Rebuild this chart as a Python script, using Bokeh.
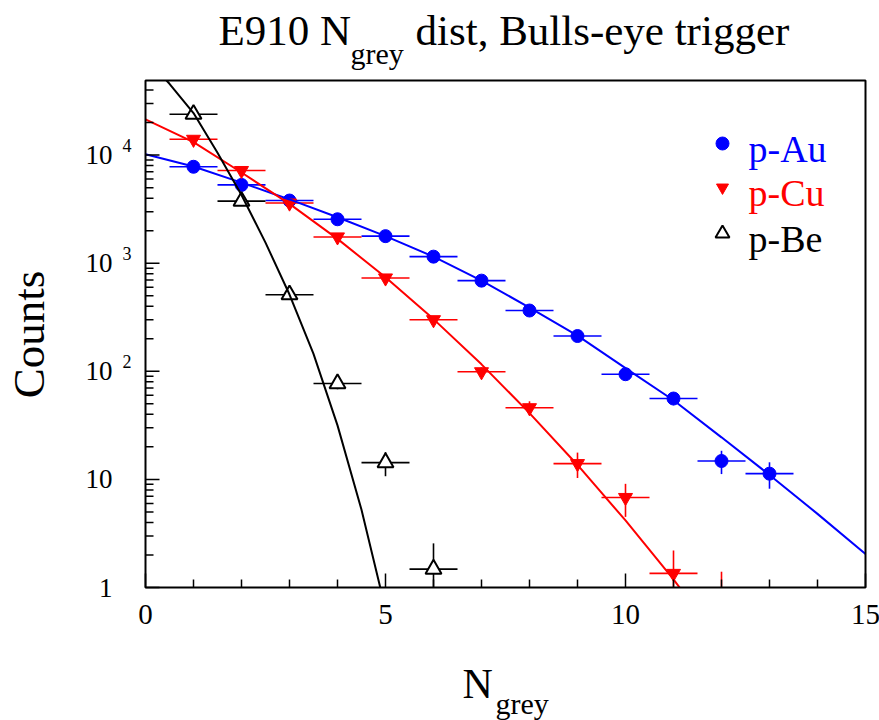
import numpy as np
from bokeh.plotting import figure
from bokeh.models import Range1d, LinearScale
from bokeh.core.properties import value
from bokeh.embed import file_html
from bokeh.resources import INLINE

# ---------------- data ----------------
n_au = [1, 2, 3, 4, 5, 6, 7, 8, 9, 10, 11, 12, 13]
au = [7800, 5300, 3800, 2550, 1780, 1150, 690, 365, 212, 94, 56, 14.8, 11.3]
au_err = [88, 73, 62, 50, 42, 34, 26, 19, 14.6, 9.7, 7.5, 3.6, 3.1]

n_cu = [1, 2, 3, 4, 5, 6, 7, 8, 9, 10, 11, 12]
cu = [14000, 7200, 3600, 1750, 730, 300, 99, 46, 14, 6.8, 1.35, 0.4]
cu_err = [118, 85, 60, 42, 27, 17, 10, 6.8, 3.7, 2.3, 0.85, 1.0]

n_be = [1, 2, 3, 4, 5, 6]
be = [23900, 3750, 511, 77, 14.3, 1.48]
be_err = [155, 61, 23, 8.8, 3.6, 1.08]

fit_au_x = [0, 1, 2, 3, 4, 5, 6, 7, 8, 9, 10, 11, 12, 13, 14, 15]
fit_au = [10200, 7850, 5560, 3890, 2660, 1780, 1150, 690, 389, 214, 107, 54, 24.5, 11, 4.8, 2.04]

fit_cu_x = [0, 1, 2, 3, 4, 5, 6, 7, 8, 9, 10, 11, 11.5]
fit_cu = [21400, 13200, 6900, 3540, 1680, 740, 304, 116, 41, 13.6, 4.17, 1.19, 0.6]

fit_be_x = [0, 0.5, 1, 1.5, 2, 2.5, 3, 3.5, 4, 4.5, 5]
fit_be = [79400, 45700, 24500, 10500, 4270, 1550, 513, 145, 31.6, 5.25, 0.63]

x_ticks = [0, 5, 10, 15]
x_tick_labels = ["0", "5", "10", "15"]
x_minor = [1, 2, 3, 4, 6, 7, 8, 9, 11, 12, 13, 14]
y_ticks = [1, 10, 100, 1000, 10000]
y_tick_text = ["1", "10", "10", "10", "10"]
y_exp_ticks = [100, 1000, 10000]
y_exp_text = ["2", "3", "4"]
y_minor = [2, 3, 4, 5, 6, 7, 8, 9, 20, 30, 40, 50, 60, 70, 80, 90,
           200, 300, 400, 500, 600, 700, 800, 900,
           2000, 3000, 4000, 5000, 6000, 7000, 8000, 9000, 20000, 30000, 40000]

leg_names = ["p-Au", "p-Cu", "p-Be"]

BLUE, RED, BLACK = "#0000ff", "#ff0000", "#000000"
SERIF = "Liberation Serif"

# ---------------- geometry ----------------
W, H = 879, 720
FL, FR, FT, FB = 145, 865, 80, 587          # plot-frame edges (canvas px)
X_MIN, X_MAX = 0, 15
Y_MIN, Y_MAX = 1, 4.9e4
PXU = (FR - FL) / (X_MAX - X_MIN)           # px per x unit
PXD = (FB - FT) / np.log10(Y_MAX / Y_MIN)   # px per decade

x_lo = X_MIN - FL / PXU
x_hi = X_MAX + (W - FR) / PXU
y_lo = Y_MIN * 10 ** (-(H - FB) / PXD)
y_hi = Y_MAX * 10 ** (FT / PXD)

p = figure(width=W, height=H, output_backend="svg", toolbar_location=None,
           x_range=Range1d(x_lo, x_hi), y_range=Range1d(y_lo, y_hi), y_axis_type="log",
           x_axis_location=None, y_axis_location=None,
           min_border=0, min_border_left=0, min_border_right=0,
           min_border_top=0, min_border_bottom=0)
p.background_fill_color = "white"
p.border_fill_color = "white"
p.outline_line_color = None
p.xgrid.visible = False
p.ygrid.visible = False

# canvas-pixel helper coordinates (y grows downward)
p.extra_x_ranges = {"px": Range1d(0, W)}
p.extra_y_ranges = {"px": Range1d(H, 0)}
p.extra_y_scales = {"px": LinearScale()}
PX = dict(x_range_name="px", y_range_name="px")


def up(v, pixels):
    """value shifted up by a number of pixels on the log axis"""
    return v * 10 ** (pixels / PXD)


# ---------------- data marks ----------------
def draw_series(n, v, e, color, marker, size, fill, lw):
    n = np.array(n, float)
    v = np.array(v, float)
    e = np.array(e, float)
    lo = np.maximum(v - e, 0.05)
    hi = v + e
    p.segment(n - 0.5, v, n + 0.5, v, line_color=color, line_width=1.6)
    p.segment(n, lo, n, hi, line_color=color, line_width=1.6)
    p.scatter(n, v, marker=marker, size=size, fill_color=fill, line_color=color, line_width=lw)


draw_series(n_au, au, au_err, BLUE, "circle", 13, BLUE, 1)
draw_series(n_cu, cu, cu_err, RED, "inverted_triangle", 14, RED, 1)
draw_series(n_be, be, be_err, BLACK, "triangle", 16, "white", 2)

p.line(fit_au_x, fit_au, line_color=BLUE, line_width=2)
p.line(fit_cu_x, fit_cu, line_color=RED, line_width=2)
p.line(fit_be_x, fit_be, line_color=BLACK, line_width=2)

# white masks outside the plot frame (clip the data to the frame)
p.quad(left=[0, FR, 0, 0], right=[FL, W, W, W], top=[0, 0, 0, FB], bottom=[H, H, FT, H],
       fill_color="white", line_color=None, **PX)

# frame
p.quad(left=[FL], right=[FR], top=[FT], bottom=[FB], fill_color=None,
       line_color="black", line_width=2, **PX)

# ticks (inside the frame)
n_xm, n_xn = len(x_ticks), len(x_minor)
p.segment(x_ticks, [Y_MIN] * n_xm, x_ticks, [up(Y_MIN, 14)] * n_xm, line_color="black", line_width=1.5)
p.segment(x_minor, [Y_MIN] * n_xn, x_minor, [up(Y_MIN, 8)] * n_xn, line_color="black", line_width=1.5)
p.segment([X_MIN] * len(y_ticks), y_ticks, [X_MIN + 14 / PXU] * len(y_ticks), y_ticks,
          line_color="black", line_width=1.5)
p.segment([X_MIN] * len(y_minor), y_minor, [X_MIN + 8 / PXU] * len(y_minor), y_minor,
          line_color="black", line_width=1.5)

# tick labels
p.text(x=x_ticks, y=[up(Y_MIN, -27)] * n_xm, text=x_tick_labels,
       text_font=value(SERIF), text_font_size=value("29px"), text_color="black",
       text_align="center", text_baseline="middle")
p.text(x=[X_MIN - (FL - 112) / PXU] * len(y_ticks), y=y_ticks, text=y_tick_text,
       text_font=value(SERIF), text_font_size=value("27px"), text_color="black",
       text_align="right", text_baseline="middle")
p.text(x=[X_MIN - (FL - 122) / PXU] * len(y_exp_ticks), y=[up(t, 10) for t in y_exp_ticks],
       text=y_exp_text, text_font=value(SERIF), text_font_size=value("18px"),
       text_color="black", text_align="left", text_baseline="middle")


# free texts in canvas pixels
def txt(x, y, t, size, align="left", angle=0.0, color="black"):
    p.text(x=[x], y=[y], text=[t], text_font=value(SERIF), text_font_size=value(size),
           text_color=color, text_align=align, text_baseline="middle", angle=angle, **PX)


# title
txt(218, 30, "E910 N", "43px")
txt(350, 53, "grey", "30px")
txt(415, 30, "dist, Bulls-eye trigger", "43px")

# x axis title
txt(462, 683, "N", "42px")
txt(495, 703, "grey", "30px")

# y axis title
txt(28, 334, "Counts", "45px", align="center", angle=np.pi / 2)

# ---------------- legend ----------------
leg_colors = [BLUE, RED, BLACK]
leg_markers = ["circle", "inverted_triangle", "triangle"]
leg_fills = [BLUE, RED, "white"]
leg_sizes = [13, 12, 14]
leg_y = [143, 187, 233]
for name, c, m, f, s, yy in zip(leg_names, leg_colors, leg_markers, leg_fills, leg_sizes, leg_y):
    p.scatter([722], [yy], marker=m, size=s, fill_color=f, line_color=c,
              line_width=2 if f == "white" else 1, **PX)
    txt(748, yy + 5, name, "38px", color=c)

open("out.html", "w").write(file_html(p, INLINE))
